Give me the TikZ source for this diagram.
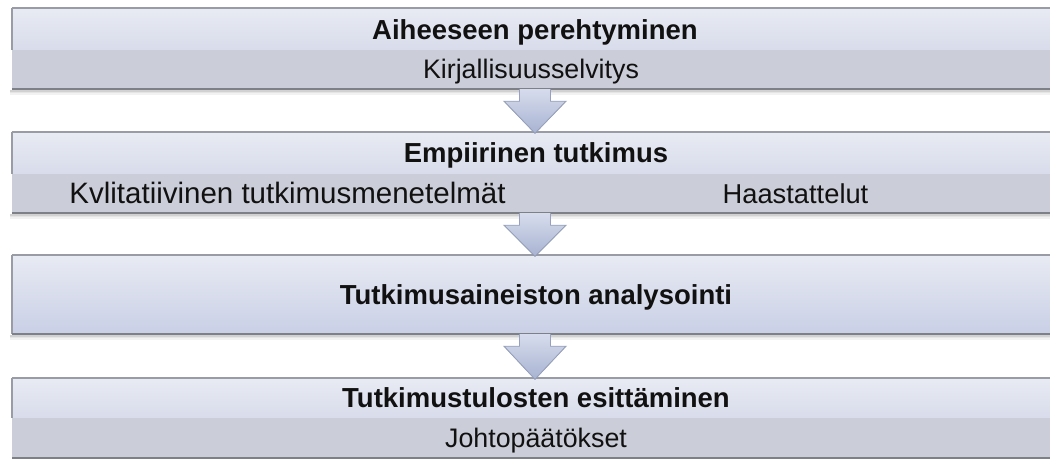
\documentclass[tikz,border=0pt]{standalone}
\usepackage{fontspec}
\setmainfont{Liberation Sans}
\usetikzlibrary{calc}
\definecolor{bandtop}{HTML}{E8EBF3}
\definecolor{bandbot}{HTML}{D8DCEB}
\definecolor{subband}{HTML}{CBCED8}
\definecolor{bigbot}{HTML}{C9CFE6}
\definecolor{edgetop}{HTML}{9A9CA5}
\definecolor{edgebot}{HTML}{7E8087}
\definecolor{arrtop}{HTML}{D6DCEC}
\definecolor{arrbot}{HTML}{A8B3D2}
\definecolor{arredge}{HTML}{97A1BC}
\definecolor{txt}{HTML}{111111}
\tikzset{
  x=1pt, y=-1pt,
  titleband/.style={rectangle, inner sep=0pt, minimum width=1048pt, minimum height=#1, top color=bandtop, bottom color=bandbot, draw=none},
  subbandbox/.style={rectangle, inner sep=0pt, minimum width=1048pt, minimum height=#1, fill=subband, draw=none},
  bigband/.style={rectangle, inner sep=0pt, minimum width=1048pt, minimum height=#1, top color=bandtop, bottom color=bigbot, draw=none},
  boldlabel/.style={anchor=base, inner sep=0pt, text=txt, font=\fontsize{27.5}{33}\selectfont\bfseries},
  plainlabel/.style={anchor=base, inner sep=0pt, text=txt, font=\fontsize{#1}{33}\selectfont},
  topedge/.style={draw=edgetop, line width=1.5pt},
  botedge/.style={draw=edgebot, line width=1.6pt},
  arrowfill/.style={top color=arrtop, bottom color=arrbot},
  arrowline/.style={draw=arredge, line width=0.9pt, line join=miter},
}
\newcommand\bottomshadow[1]{%
  \draw[black, opacity=0.18, line width=1.5pt] ($(#1.south west)+(-2,2)$) -- ($(#1.south east)+(0,2)$);
  \draw[black, opacity=0.10, line width=1.5pt] ($(#1.south west)+(-2,3.5)$) -- ($(#1.south east)+(0,3.5)$);
  \draw[black, opacity=0.05, line width=1.5pt] ($(#1.south west)+(-2,5)$) -- ($(#1.south east)+(0,5)$);
}
\newcommand\blockarrow[2]{%
  \coordinate (s#1) at ($(#1.south)+(-1,0)$);
  \coordinate (t#1) at ($(#2.north)+(-1,1.5)$);
  \fill[arrowfill] ($(s#1)+(-15.5,0)$) -- ($(s#1)+(-15.5,12)$) -- ($(s#1)+(-31,12)$) -- (t#1) -- ($(s#1)+(31,12)$) -- ($(s#1)+(15.5,12)$) -- ($(s#1)+(15.5,0)$) -- cycle;
  \draw[arrowline] ($(s#1)+(-15.5,0)$) -- ($(s#1)+(-15.5,12)$) -- ($(s#1)+(-31,12)$) -- (t#1) -- ($(s#1)+(31,12)$) -- ($(s#1)+(15.5,12)$) -- ($(s#1)+(15.5,0)$);
}
\begin{document}
\begin{tikzpicture}
\useasboundingbox (0,0) rectangle (1050,459);
\clip (0,0) rectangle (1050,459);
\fill[white] (0,0) rectangle (1050,459);

% box 1
\node[titleband=42pt] (b1t) at (536,29) {};
\node[subbandbox=39pt] (b1s) at (536,69.5) {};
% box 2
\node[titleband=42pt] (b2t) at (536,153) {};
\node[subbandbox=39pt] (b2s) at (536,193.5) {};
% box 3
\node[bigband=79pt] (b3) at (536,294.5) {};
% box 4
\node[titleband=40pt] (b4t) at (536,398) {};
\node[subbandbox=40pt] (b4s) at (536,438) {};

% shadows
\bottomshadow{b1s}
\bottomshadow{b2s}
\bottomshadow{b3}

% edges
\draw[topedge] (b1t.north west) -- (b1t.north east);
\draw[topedge] (b1t.north west) -- (b1t.south west);
\draw[botedge] (b1s.south west) -- (b1s.south east);
\draw[topedge] (b2t.north west) -- (b2t.north east);
\draw[topedge] (b2t.north west) -- (b2t.south west);
\draw[botedge] (b2s.south west) -- (b2s.south east);
\draw[topedge] (b3.north west) -- (b3.north east);
\draw[topedge] (b3.north west) -- (b3.south west);
\draw[botedge] (b3.south west) -- (b3.south east);
\draw[topedge] (b4t.north west) -- (b4t.north east);
\draw[topedge] (b4t.north west) -- (b4t.south west);
\draw[botedge] (b4s.south west) -- (b4s.south east);

% arrows
\blockarrow{b1s}{b2t}
\blockarrow{b2s}{b3}
\blockarrow{b3}{b4t}

% labels
\node[boldlabel] (l1) at (535,39) {Aiheeseen perehtyminen};
\node[plainlabel=26.8] (l2) at (531,78.5) {Kirjallisuusselvitys};
\node[boldlabel] (l3) at (536,162.5) {Empiirinen tutkimus};
\node[plainlabel=29.5] (l4) at (287.5,203) {Kvlitatiivinen tutkimusmenetelmät};
\node[plainlabel=27.3] (l5) at (795.5,203) {Haastattelut};
\node[boldlabel] (l6) at (536,304.5) {Tutkimusaineiston analysointi};
\node[boldlabel] (l7) at (536,407.5) {Tutkimustulosten esittäminen};
\node[plainlabel=26.8] (l8) at (536,447.5) {Johtopäätökset};
\end{tikzpicture}
\end{document}
